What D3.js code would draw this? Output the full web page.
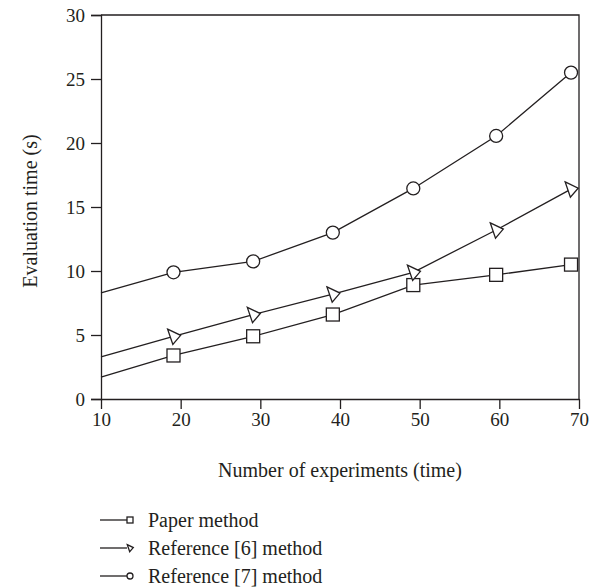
<!DOCTYPE html>
<html>
<head>
<meta charset="utf-8">
<script src="https://cdn.jsdelivr.net/npm/d3@7"></script>
<style>
  body { margin: 0; background: #fff; }
  text { font-family: "Liberation Serif", "DejaVu Serif", serif; fill: #231f20; }
</style>
</head>
<body>
<div id="chart"></div>
<script>
//data
var experiments = [10, 19.1, 29.1, 39.1, 49.2, 59.6, 69];
var paperMethod = [1.7, 3.4, 4.9, 6.6, 8.9, 9.7, 10.5];
var ref6Method = [3.3, 4.9, 6.6, 8.2, 9.9, 13.2, 16.4];
var ref7Method = [8.3, 9.9, 10.75, 13.0, 16.45, 20.55, 25.5];
var seriesNames = ["Paper method", "Reference [6] method", "Reference [7] method"];
var xTicks = [10, 20, 30, 40, 50, 60, 70];
var yTicks = [0, 5, 10, 15, 20, 25, 30];

var svgWidth = 601;
var svgHeight = 588;
var margin = { top: 15, right: 22, bottom: 189, left: 101 };
var width = svgWidth - margin.left - margin.right;
var height = svgHeight - margin.top - margin.bottom;
var ink = "#231f20";

var svg = d3.select("#chart").append("svg")
    .attr("width", svgWidth)
    .attr("height", svgHeight);

var chartGroup = svg.append("g")
    .attr("transform", `translate(${margin.left}, ${margin.top})`);

var x = d3.scaleLinear().domain([10, 70]).range([0, width]);
var y = d3.scaleLinear().domain([0, 30]).range([height, 0]);

//frame: top and right lines
chartGroup.append("path")
    .attr("d", `M0,0H${width}V${height}`)
    .attr("fill", "none")
    .attr("stroke", ink)
    .attr("stroke-width", 1.3);

//axes
var xAxis = chartGroup.append("g")
    .attr("transform", `translate(0, ${height})`)
    .call(d3.axisBottom(x).tickValues(xTicks).tickSizeOuter(0));
var yAxis = chartGroup.append("g")
    .call(d3.axisLeft(y).tickValues(yTicks).tickSizeOuter(0).tickSize(10).tickPadding(6));

//x ticks hang below the axis
xAxis.selectAll(".tick line").attr("y1", 0).attr("y2", 10);
xAxis.selectAll(".tick text").attr("y", 14);

[xAxis, yAxis].forEach(function(ax) {
    ax.select(".domain").attr("stroke", ink).attr("stroke-width", 1.3);
    ax.selectAll(".tick line").attr("stroke", ink).attr("stroke-width", 1.3);
    ax.selectAll(".tick text")
        .attr("font-size", "19px")
        .attr("font-family", "Liberation Serif, DejaVu Serif, serif")
        .attr("fill", ink);
});

//axis labels
chartGroup.append("text")
    .attr("x", width / 2)
    .attr("y", height + 71)
    .attr("dy", "0.35em")
    .attr("text-anchor", "middle")
    .attr("font-size", "20px")
    .text("Number of experiments (time)");

chartGroup.append("text")
    .attr("transform", `translate(${-71}, ${height / 2 + 4}) rotate(-90)`)
    .attr("dy", "0.35em")
    .attr("text-anchor", "middle")
    .attr("font-size", "20px")
    .text("Evaluation time (s)");

var series = [
    { name: seriesNames[0], values: paperMethod, marker: "square" },
    { name: seriesNames[1], values: ref6Method, marker: "triangle" },
    { name: seriesNames[2], values: ref7Method, marker: "circle" }
];

var line = d3.line()
    .x(d => x(d[0]))
    .y(d => y(d[1]));

function drawMarker(g, type, cx, cy, s) {
    if (type === "square") {
        g.append("rect")
            .attr("x", cx - s).attr("y", cy - s)
            .attr("width", 2 * s).attr("height", 2 * s);
    } else if (type === "circle") {
        g.append("circle")
            .attr("cx", cx).attr("cy", cy).attr("r", s);
    } else {
        g.append("path")
            .attr("d", `M${-s * 0.9},${-s * 1.1}L${s * 1.1},${-s * 0.15}L${-s * 0.1},${s * 1.25}Z`)
            .attr("transform", `translate(${cx}, ${cy})`);
    }
}

series.forEach(function(s) {
    var pts = experiments.map((e, i) => [e, s.values[i]]);
    chartGroup.append("path")
        .datum(pts)
        .attr("fill", "none")
        .attr("stroke", ink)
        .attr("stroke-width", 1.3)
        .attr("d", line);

    var mg = chartGroup.append("g")
        .attr("fill", "#fff")
        .attr("stroke", ink)
        .attr("stroke-width", 1.3);
    pts.slice(1).forEach(function(p) {
        drawMarker(mg, s.marker, x(p[0]), y(p[1]), 6.5);
    });
});

//legend
var legend = svg.append("g")
    .attr("transform", "translate(100, 520)");

series.forEach(function(s, i) {
    var row = legend.append("g")
        .attr("transform", `translate(0, ${i * 28})`);
    row.append("line")
        .attr("x1", 0).attr("x2", 27)
        .attr("y1", 0).attr("y2", 0)
        .attr("stroke", ink)
        .attr("stroke-width", 1.3);
    var mg = row.append("g")
        .attr("fill", "#fff")
        .attr("stroke", ink)
        .attr("stroke-width", 1.3);
    drawMarker(mg, s.marker, 30, 0, 3);
    row.append("text")
        .attr("x", 48)
        .attr("y", 0)
        .attr("dy", "0.35em")
        .attr("font-size", "20px")
        .text(s.name);
});
</script>
</body>
</html>
